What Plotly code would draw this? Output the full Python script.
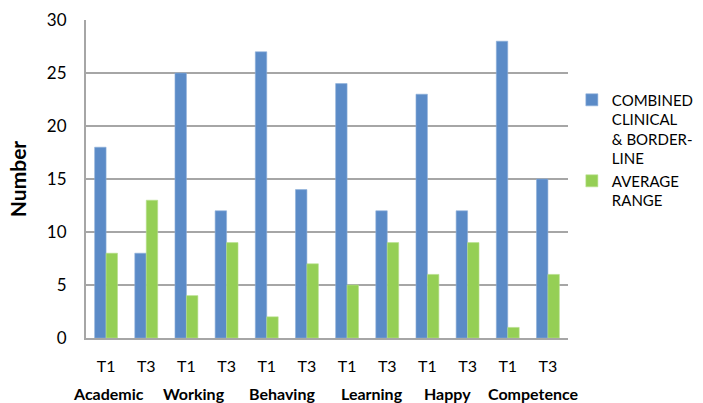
import plotly.graph_objects as go

# Time points per domain and their counts
domains = ["Academic", "Working", "Behaving", "Learning", "Happy", "Competence"]
times = ["T1", "T3"]
combined = [18, 8, 25, 12, 27, 14, 24, 12, 23, 12, 28, 15]
average = [8, 13, 4, 9, 2, 7, 5, 9, 6, 9, 1, 6]

x_idx = list(range(len(domains) * len(times)))
tick_text = [t for _ in domains for t in times]

font_family = "Lato, 'Open Sans', sans-serif"

fig = go.Figure()
fig.add_trace(go.Bar(
    x=x_idx, y=combined, name="COMBINED<br>CLINICAL<br>& BORDER-<br>LINE",
    marker=dict(color="#5b8bc7", line=dict(color="#8fb0da", width=0.6)),
))
fig.add_trace(go.Bar(
    x=x_idx, y=average, name="AVERAGE<br>RANGE",
    marker=dict(color="#95cf55", line=dict(color="#b9e08f", width=0.6)),
))

# Domain names under each T1/T3 pair
offsets = [-0.45, -0.3, -0.13, 0.12, 0.0, 0.14]
for i, d in enumerate(domains):
    fig.add_annotation(
        x=2 * i + 0.5 + offsets[i], xref="x", y=-0.173, yref="paper",
        text=f"<b>{d}</b>", showarrow=False, yanchor="middle",
        font=dict(family=font_family, size=16, color="#000000"),
    )

fig.update_layout(
    width=703, height=403,
    margin=dict(l=86, r=135, t=20, b=65, autoexpand=False),
    paper_bgcolor="#ffffff", plot_bgcolor="#ffffff",
    barmode="group", bargap=0.43, bargroupgap=0,
    font=dict(family=font_family, size=16, color="#000000"),
    legend=dict(
        x=1.008, y=0.80, xanchor="left", yanchor="top", valign="top",
        font=dict(family=font_family, size=15, color="#000000"),
        itemwidth=30, tracegroupgap=0, traceorder="normal",
    ),
    xaxis=dict(
        tickmode="array", tickvals=x_idx, ticktext=tick_text,
        range=[-0.5, len(x_idx) - 0.5],
        showgrid=False, showline=True, linecolor="#a6a6a6", linewidth=2,
        ticks="", ticklabelstandoff=13,
        tickfont=dict(family=font_family, size=16),
    ),
    yaxis=dict(
        range=[0, 30], dtick=5, showgrid=True, gridcolor="#a6a6a6", gridwidth=1.5,
        showline=True, linecolor="#a6a6a6", linewidth=2, zeroline=False,
        ticks="", ticklabelstandoff=14,
        tickfont=dict(family=font_family, size=17),
        title=dict(text="<b>Number</b>", standoff=15,
                   font=dict(family=font_family, size=21)),
    ),
)

fig.write_html("out.html")
